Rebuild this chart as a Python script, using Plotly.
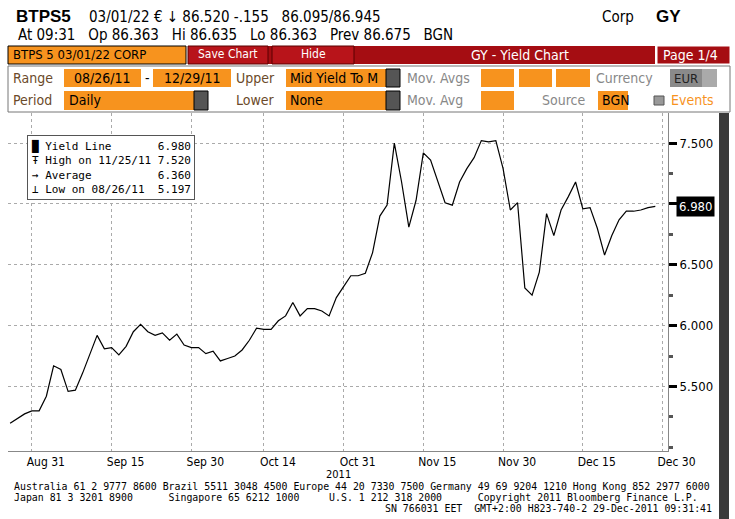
import plotly.graph_objects as go

# yield readings (business days, Aug 26 - Dec 29 2011)
dates = ["2011-08-26", "2011-08-30", "2011-08-31", "2011-09-01", "2011-09-02", "2011-09-05",
         "2011-09-06", "2011-09-07", "2011-09-08", "2011-09-09", "2011-09-13", "2011-09-14",
         "2011-09-15", "2011-09-16", "2011-09-19", "2011-09-20", "2011-09-21", "2011-09-22",
         "2011-09-23", "2011-09-26", "2011-09-27", "2011-09-28", "2011-09-29", "2011-09-30",
         "2011-10-03", "2011-10-04", "2011-10-05", "2011-10-06", "2011-10-07", "2011-10-10",
         "2011-10-11", "2011-10-12", "2011-10-13", "2011-10-14", "2011-10-17", "2011-10-18",
         "2011-10-19", "2011-10-20", "2011-10-21", "2011-10-24", "2011-10-25", "2011-10-26",
         "2011-10-27", "2011-10-28", "2011-10-31", "2011-11-01", "2011-11-02", "2011-11-03",
         "2011-11-04", "2011-11-07", "2011-11-08", "2011-11-09", "2011-11-10", "2011-11-11",
         "2011-11-14", "2011-11-15", "2011-11-16", "2011-11-17", "2011-11-18", "2011-11-21",
         "2011-11-22", "2011-11-23", "2011-11-24", "2011-11-25", "2011-11-28", "2011-11-29",
         "2011-11-30", "2011-12-01", "2011-12-02", "2011-12-05", "2011-12-06", "2011-12-07",
         "2011-12-08", "2011-12-09", "2011-12-12", "2011-12-13", "2011-12-14", "2011-12-15",
         "2011-12-16", "2011-12-19", "2011-12-20", "2011-12-21", "2011-12-22", "2011-12-23",
         "2011-12-26", "2011-12-27", "2011-12-28", "2011-12-29"]
yields = [5.197, 5.275, 5.30, 5.30, 5.42, 5.67, 5.64, 5.46, 5.47, 5.61, 5.92, 5.81,
          5.82, 5.76, 5.83, 5.95, 6.01, 5.95, 5.92, 5.94, 5.88, 5.93, 5.84, 5.82,
          5.82, 5.77, 5.79, 5.71, 5.73, 5.75, 5.80, 5.88, 5.98, 5.97, 5.97, 6.04,
          6.08, 6.19, 6.08, 6.14, 6.14, 6.12, 6.08, 6.23, 6.32, 6.41, 6.41, 6.43,
          6.60, 6.90, 6.99, 7.50, 7.18, 6.81, 7.03, 7.42, 7.36, 7.18, 7.01, 6.99,
          7.18, 7.29, 7.38, 7.52, 7.51, 7.52, 7.29, 6.95, 7.01, 6.31, 6.25, 6.44,
          6.92, 6.74, 6.95, 7.06, 7.18, 6.96, 6.97, 6.80, 6.58, 6.74, 6.87, 6.94,
          6.94, 6.95, 6.97, 6.98]

tick_dates = ["2011-08-31", "2011-09-15", "2011-09-30", "2011-10-14", "2011-10-31",
              "2011-11-15", "2011-11-30", "2011-12-15", "2011-12-30"]
tick_text = ["Aug 31", "Sep 15", "Sep 30", "Oct 14", "Oct 31", "Nov 15", "Nov 30", "Dec 15", "Dec 30"]
y_ticks = [5.5, 6.0, 6.5, 7.0, 7.5]
y_tick_text = ["5.500", "6.000", "6.500", "", "7.500"]  # 7.000 sits under the value tag

W, H = 735, 519
FONT = "DejaVu Sans Condensed, Liberation Sans Narrow, sans-serif"
ORANGE = "#f7931e"


def px(x):
    return x / W


def py(y):
    return 1 - y / H


fig = go.Figure()
fig.add_trace(go.Scatter(x=dates, y=yields, mode="lines",
                         line=dict(color="black", width=1.2), hoverinfo="x+y"))

shapes = []
ann = []


def box(x0, y0, x1, y1, fill, line="black", lw=0):
    shapes.append(dict(type="rect", xref="paper", yref="paper", x0=px(x0), x1=px(x1),
                       y0=py(y1), y1=py(y0), fillcolor=fill,
                       line=dict(color=line, width=lw), layer="below"))


def text(x, y, s, size=13, color="black", anchor="left", font=FONT, bold=False):
    if bold:
        s = "<b>" + s + "</b>"
    ann.append(dict(xref="paper", yref="paper", x=px(x), y=py(y), text=s, showarrow=False,
                    xanchor=anchor, yanchor="middle",
                    font=dict(family=font, size=size, color=color)))


# header lines
text(14, 17, "BTPS5", 17, bold=True, font="Liberation Sans, sans-serif")
text(87, 17, "03/01/22 € ↓ 86.520 -.155   86.095/86.945", 15)
text(600, 17, "Corp", 15)
text(654, 17, "GY", 17, bold=True, font="Liberation Sans, sans-serif")
text(16, 35, "At 09:31   Op 86.363   Hi 86.635   Lo 86.363   Prev 86.675   BGN", 15)

# red toolbar
box(8, 46, 186, 64, ORANGE, "black", 1)
text(11, 55, "BTPS 5 03/01/22 CORP", 13)
box(188, 46, 655, 64, "#a50d12")
box(188, 46, 268, 64, "#b8141a", "#5a0000", 1)
box(272, 46, 354, 64, "#b8141a", "#5a0000", 1)
text(228, 54, "Save Chart", 12, "white", "center")
text(313, 54, "Hide", 12, "white", "center")
text(520, 55, "GY - Yield Chart", 14, "white", "center")
box(657, 46, 730, 64, "#a50d12", "white", 1)
text(661, 55, "Page 1/4", 14, "white")

# control panel
box(8, 66, 730, 112, "white", "#777", 1)
for x0, x1, y0, y1 in [(64, 141, 69, 87), (153, 231, 69, 87), (286, 386, 69, 87),
                       (481, 514, 69, 87), (519, 552, 69, 87), (556, 590, 69, 87),
                       (64, 194, 91, 110), (286, 386, 91, 110), (481, 514, 91, 110),
                       (598, 628, 91, 110)]:
    box(x0, y0, x1, y1, ORANGE)
for x0, y0, y1 in [(386, 69, 87), (194, 91, 110), (386, 91, 110)]:
    box(x0, y0, x0 + 14, y1, "#555", "black", 1)
box(670, 69, 702, 87, "#8a8a8a")
box(702, 69, 717, 87, "#aaa")
box(654, 96, 664, 105, "#999", "#555", 1)
lbl = "#6b4a2a"
text(11, 78, "Range", 14, lbl)
text(102, 78, "08/26/11", 14, anchor="center")
text(147, 78, "-", 14, anchor="center")
text(192, 78, "12/29/11", 14, anchor="center")
text(234, 78, "Upper", 14, lbl)
text(288, 78, "Mid Yield To M", 14)
text(405, 78, "Mov. Avgs", 14, "#888")
text(594, 78, "Currency", 14, "#888")
text(672, 78, "EUR", 13, "#222")
text(11, 100, "Period", 14, lbl)
text(67, 100, "Daily", 14)
text(234, 100, "Lower", 14, lbl)
text(288, 100, "None", 14)
text(405, 100, "Mov. Avg", 14, "#888")
text(540, 100, "Source", 14, "#888")
text(600, 100, "BGN", 14)
text(669, 100, "Events", 14, ORANGE)

# right dark bar and value tag
box(719, 113, 729, 519, "#3a3a3a")
ann.append(dict(xref="paper", yref="y", x=px(676), y=6.98, text="6.980", showarrow=False,
                xanchor="left", bgcolor="black", borderpad=2,
                font=dict(family=FONT, size=13, color="white")))

# legend box
ann.append(dict(xref="paper", yref="paper", x=px(27), y=py(135), xanchor="left", yanchor="top",
                align="left", showarrow=False, bgcolor="white", bordercolor="#555",
                borderwidth=1, borderpad=3,
                text="█ Yield Line       6.980<br>Ŧ High on 11/25/11 7.520<br>"
                     "→ Average          6.360<br>⊥ Low on 08/26/11  5.197",
                font=dict(family="DejaVu Sans Mono", size=11, color="black")))

# footer
text(338, 474, "2011", 11, anchor="center")
mono = "DejaVu Sans Mono, monospace"
text(12, 486, "Australia 61 2 9777 8600 Brazil 5511 3048 4500 Europe 44 20 7330 7500 Germany 49 69 9204 1210 Hong Kong 852 2977 6000", 9.9, font=mono)
text(12, 497, "Japan 81 3 3201 8900      Singapore 65 6212 1000     U.S. 1 212 318 2000      Copyright 2011 Bloomberg Finance L.P.", 9.9, font=mono)
text(714, 508, "SN 766031 EET  GMT+2:00 H823-740-2 29-Dec-2011 09:31:41", 9.9, anchor="right", font=mono)

fig.update_layout(
    width=W, height=H, margin=dict(l=0, r=0, t=0, b=0),
    paper_bgcolor="white", plot_bgcolor="white", showlegend=False,
    shapes=shapes, annotations=ann,
    xaxis=dict(domain=[px(8), px(668)], type="date", automargin=False,
               range=["2011-08-25 17:00", "2011-12-30 18:00"],
               rangebreaks=[dict(bounds=["sat", "mon"])],
               tickvals=tick_dates, ticktext=tick_text, ticklabelshift=14,
               showgrid=True, gridcolor="#aaa", griddash="dot", gridwidth=1,
               ticks="", showline=True, linecolor="#888",
               tickfont=dict(family=FONT, size=12, color="black")),
    yaxis=dict(domain=[py(451), py(113)], range=[4.97, 7.747], side="right", automargin=False,
               tickvals=y_ticks, ticktext=y_tick_text, showgrid=True, gridcolor="#aaa",
               griddash="dot", ticks="outside", ticklen=8, tickwidth=3, tickcolor="black",
               showline=True, linecolor="#888", zeroline=False,
               minor=dict(dtick=0.25, ticks="outside", ticklen=4, tickcolor="#555", showgrid=False),
               tickfont=dict(family=FONT, size=13, color="black")),
)

fig.write_html("out.html", config={"displayModeBar": False},
               post_script="document.body.style.margin='0';")
